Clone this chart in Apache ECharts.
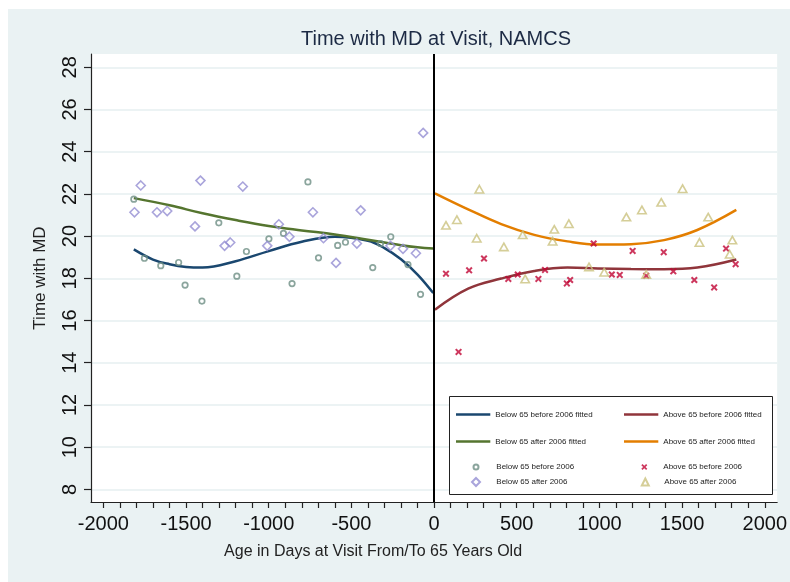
<!DOCTYPE html>
<html><head><meta charset="utf-8">
<script src="https://cdn.jsdelivr.net/npm/echarts@6/dist/echarts.min.js"></script>
<style>html,body{margin:0;padding:0;background:#fff}#c{width:790px;height:582px}</style>
</head><body><div id="c"></div>
<script>
// ---- data ----
const belowBefore = [[-1816,21.75],[-1752,18.95],[-1653,18.60],[-1545,18.75],[-1506,17.68],[-1404,16.92],[-1302,20.63],[-1193,18.10],[-1135,19.27],[-999,19.87],[-911,20.13],[-859,17.75],[-763,22.57],[-699,18.97],[-583,19.56],[-536,19.71],[-371,18.51],[-324,19.65],[-262,19.97],[-158,18.65],[-82,17.24]];
const belowAfter = [[-1812,21.13],[-1774,22.40],[-1676,21.13],[-1614,21.19],[-1446,20.46],[-1413,22.63],[-1267,19.54],[-1233,19.70],[-1157,22.35],[-1009,19.54],[-939,20.56],[-875,19.97],[-733,21.13],[-669,19.90],[-593,18.73],[-467,19.65],[-444,21.22],[-264,19.54],[-188,19.40],[-110,19.19],[-66,24.89]];
const aboveBefore = [[72,18.22],[148,14.51],[212,18.38],[302,18.94],[449,17.97],[506,18.18],[631,17.97],[671,18.40],[803,17.76],[823,17.92],[965,19.65],[1075,18.18],[1123,18.16],[1201,19.30],[1283,18.12],[1389,19.24],[1447,18.33],[1574,17.92],[1694,17.57],[1766,19.41],[1824,18.67]];
const aboveAfter = [[72,20.51],[138,20.78],[258,19.90],[274,22.22],[422,19.49],[536,20.06],[551,17.97],[717,19.76],[727,20.32],[815,20.59],[937,18.54],[1029,18.29],[1163,20.90],[1257,21.24],[1283,18.18],[1374,21.60],[1503,22.25],[1605,19.70],[1658,20.90],[1788,19.14],[1804,19.81]];
const fitBelowBefore = [[-1816,19.37],[-1700,18.89],[-1600,18.67],[-1500,18.54],[-1400,18.51],[-1200,18.81],[-1000,19.29],[-800,19.73],[-600,19.97],[-400,19.78],[-300,19.43],[-200,18.90],[-100,18.18],[-5,17.30]];
const fitBelowAfter = [[-1816,21.80],[-1600,21.46],[-1400,21.08],[-1200,20.76],[-1000,20.48],[-800,20.27],[-600,20.08],[-400,19.83],[-200,19.57],[-100,19.47],[-5,19.41]];
const fitAboveBefore = [[5,16.51],[206,17.51],[406,17.99],[606,18.35],[807,18.51],[991,18.47],[1191,18.44],[1391,18.43],[1592,18.51],[1828,18.89]];
const fitAboveAfter = [[5,22.03],[206,21.27],[406,20.57],[606,20.06],[807,19.75],[991,19.60],[1191,19.62],[1391,19.81],[1592,20.29],[1828,21.24]];
const xLabelValues = [-2000,-1500,-1000,-500,0,500,1000,1500,2000];
const xTickValues = [];
for (let v = -2000; v <= 2000; v += 100) xTickValues.push(v);
const yLabelValues = [8,10,12,14,16,18,20,22,24,26,28];

const FONT = 'Liberation Sans, Arial, sans-serif';
const C = {navy:'#1a476f', maroon:'#90353b', green:'#55752f', orange:'#e37e00', teal:'#6e8e84', cran:'#c10534', lav:'#938dd2', khaki:'#cac27e'};
const crossPath = 'path://M2,0 L5,3 L8,0 L10,2 L7,5 L10,8 L8,10 L5,7 L2,10 L0,8 L3,5 L0,2 Z';
const lineIcon = 'path://M0,0 L34,0 L34,2.5 L0,2.5 Z';
function legText(pad) { return {fontSize:8, color:'#222', fontFamily:FONT, padding:[0,0,0,pad||0]}; }
function lineLeg(names, left, top) {
  return {data:names.map(n => ({name:n, icon:lineIcon})), orient:'vertical', left:left, top:top,
          itemWidth:34.3, itemHeight:2.5, itemGap:19, padding:0, textStyle:legText(0),
          selectedMode:false, symbolKeepAspect:false, z:10};
}
function markLeg(name, cx, top, size, textX) {
  const left = cx - size / 2;
  return {data:[name], orient:'vertical', left:left, top:top, itemWidth:size, itemHeight:size,
          padding:0, textStyle:legText(textX - (left + size + 5)), selectedMode:false, symbolKeepAspect:true, z:10};
}

const chart = echarts.init(document.getElementById('c'), null, {renderer:'canvas'});
chart.setOption({
  animation:false,
  backgroundColor:'#eaf2f3',
  textStyle:{fontFamily:FONT},
  title:{text:'Time with MD at Visit, NAMCS', left:436, top:29, padding:0, textAlign:'center',
         textStyle:{fontSize:20, fontWeight:'normal', color:'#1c2a44', fontFamily:FONT}},
  grid:{left:91, right:9.5, top:54, bottom:80, show:true, backgroundColor:'#fff', borderWidth:0},
  xAxis:{type:'value', min:-2075, max:2075,
    axisLine:{onZero:false, lineStyle:{color:'#222', width:1.2}},
    axisTick:{customValues:xTickValues, length:6, lineStyle:{color:'#222', width:1.2}},
    axisLabel:{customValues:xLabelValues, formatter:v => String(v), fontSize:20, color:'#111', margin:12, fontFamily:FONT},
    splitLine:{show:false},
    name:'Age in Days at Visit From/To 65 Years Old', nameLocation:'middle', nameGap:42,
    nameTextStyle:{fontSize:16, color:'#222', padding:[0,122,0,0], fontFamily:FONT}},
  yAxis:{type:'value', min:7.4, max:28.63,
    axisLine:{show:true, onZero:false, lineStyle:{color:'#222', width:1.2}},
    axisTick:{show:true, customValues:yLabelValues, length:7, lineStyle:{color:'#222', width:1.2}},
    axisLabel:{customValues:yLabelValues, formatter:v => String(v), rotate:90, fontSize:20, color:'#111', margin:11, fontFamily:FONT},
    splitLine:{show:true, lineStyle:{color:'#e6eff1', width:1.5}},
    name:'Time with MD', nameLocation:'middle', nameGap:42,
    nameTextStyle:{fontSize:17, color:'#222', fontFamily:FONT}},
  legend:[
    lineLeg(['Below 65 before 2006 fitted','Below 65 after 2006 fitted'], 456, 410.5),
    lineLeg(['Above 65 before 2006 fitted','Above 65 after 2006 fitted'], 624, 410.5),
    markLeg('Below 65 before 2006', 475, 463, 5, 495.3),
    markLeg('Below 65 after 2006', 475, 477, 8, 495.3),
    markLeg('Above 65 before 2006', 644.3, 463, 6, 663.3),
    markLeg('Above 65 after 2006', 644.3, 477.5, 7, 663.3)
  ],
  graphic:[
    {type:'rect', shape:{x:0,y:0,width:790,height:9}, style:{fill:'#fff'}, silent:true},
    {type:'rect', shape:{x:0,y:0,width:8,height:582}, style:{fill:'#fff'}, silent:true},
    {type:'rect', shape:{x:449.5,y:396.5,width:323,height:98}, style:{fill:'#fff', stroke:'#222', lineWidth:1}, z:5, silent:true}
  ],
  series:[
    {name:'Below 65 before 2006 fitted', type:'line', data:fitBelowBefore, smooth:0.4, symbol:'none',
     lineStyle:{color:C.navy, width:2.5}, itemStyle:{color:C.navy}, z:2, emphasis:{disabled:true},
     markLine:{silent:true, symbol:'none', label:{show:false}, lineStyle:{color:'#000', width:2, type:'solid'}, data:[{xAxis:0}]}},
    {name:'Below 65 after 2006 fitted', type:'line', data:fitBelowAfter, smooth:0.4, symbol:'none',
     lineStyle:{color:C.green, width:2.5}, itemStyle:{color:C.green}, z:2, emphasis:{disabled:true}},
    {name:'Above 65 before 2006 fitted', type:'line', data:fitAboveBefore, smooth:0.4, symbol:'none',
     lineStyle:{color:C.maroon, width:2.5}, itemStyle:{color:C.maroon}, z:2, emphasis:{disabled:true}},
    {name:'Above 65 after 2006 fitted', type:'line', data:fitAboveAfter, smooth:0.4, symbol:'none',
     lineStyle:{color:C.orange, width:2.5}, itemStyle:{color:C.orange}, z:2, emphasis:{disabled:true}},
    {name:'Below 65 before 2006', type:'scatter', data:belowBefore, symbol:'circle', symbolSize:5.5, symbolKeepAspect:true,
     itemStyle:{color:'rgba(0,0,0,0)', borderColor:C.teal, borderWidth:1.7}, z:3, emphasis:{disabled:true}},
    {name:'Below 65 after 2006', type:'scatter', data:belowAfter, symbol:'diamond', symbolSize:9, symbolKeepAspect:true,
     itemStyle:{color:'rgba(0,0,0,0)', borderColor:C.lav, borderWidth:1.6}, z:3, emphasis:{disabled:true}},
    {name:'Above 65 before 2006', type:'scatter', data:aboveBefore, symbol:crossPath, symbolSize:7, symbolKeepAspect:true,
     itemStyle:{color:C.cran}, z:3, emphasis:{disabled:true}},
    {name:'Above 65 after 2006', type:'scatter', data:aboveAfter, symbol:'triangle', symbolSize:[8.5,7.5],
     itemStyle:{color:'rgba(0,0,0,0)', borderColor:C.khaki, borderWidth:1.6}, z:3, emphasis:{disabled:true}}
  ]
});
</script></body></html>
